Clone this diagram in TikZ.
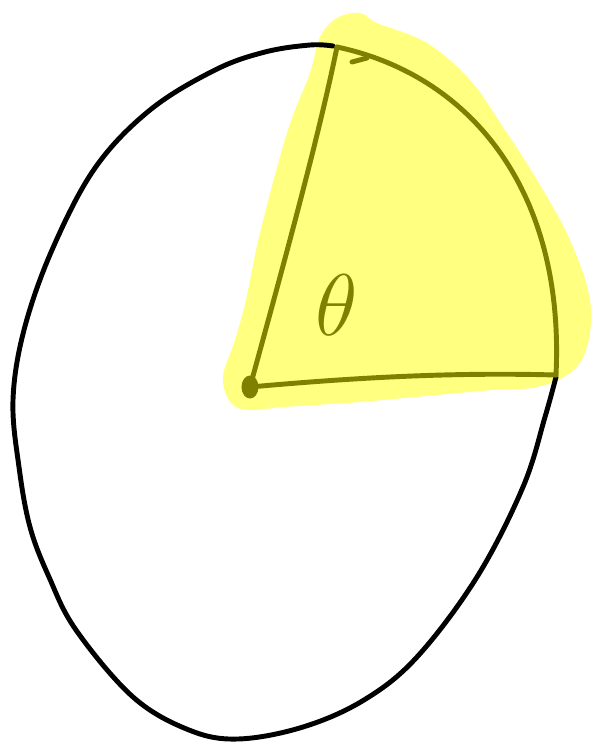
\documentclass[tikz,border=0pt]{standalone}
\usetikzlibrary{positioning, shapes.geometric}

\definecolor{hilite}{RGB}{255,255,128}
\definecolor{pen}{RGB}{128,128,0}

\begin{document}
\begin{tikzpicture}[
  x=0.01cm, y=-0.01cm,
  %% outline of the disc
  rim/.style={draw=black, line width=1.4pt, line cap=round, line join=round},
  %% strokes of the sector
  sectorline/.style={draw=pen, line width=1.4pt, line cap=round, line join=round},
  %% highlighter patch
  marker/.style={fill=hilite, draw=none},
  %% centre point
  centre/.style={ellipse, fill=pen, inner sep=0pt, minimum width=0.17cm, minimum height=0.23cm},
  %% angle label
  anglelabel/.style={text=pen, font=\fontsize{34}{34}\selectfont}
]
\useasboundingbox (0,0) rectangle (595,744);

%% ================================================================
%% HIGHLIGHT
%% ================================================================
\path[marker] plot[smooth cycle, tension=0.6] coordinates {
  (320,37) (337,18) (360,13) (377,23) (427,43) (470,80) (503,127)
  (537,180) (570,240) (590,300) (587,347) (570,373) (537,387)
  (492,390) (436,395) (360,402) (284,407) (250,410) (231,403)
  (223,377) (235,340) (246,300) (260,233) (287,133) (310,73)};

%% ================================================================
%% DISC OUTLINE
%% ================================================================
\coordinate (tip)  at (337,47);
\coordinate (edge) at (556,375);

\draw[rim] plot[smooth, tension=0.6] coordinates {
  (333,46) (310,45) (265,52) (215,70) (150,110) (95,168) (52,250)
  (24,330) (13,400) (19,467) (30,527) (49,577) (76,630) (133,697)
  (189,730) (238,739) (303,727) (364,700) (417,657) (477,577)
  (523,487) (545,417) (556,377)};

%% ================================================================
%% SECTOR
%% ================================================================
\node[centre] (o) at (250,387) {};

\draw[sectorline] (o.center) .. controls (282,270) and (318,140) .. (tip);
\draw[sectorline] (o.center) .. controls (350,378) and (450,372) .. (edge);
\draw[sectorline] (tip) .. controls (470,75) and (565,190) .. (edge);
\draw[sectorline] (352,62) -- (367,58);

\node[anglelabel] (theta) at (337,305) {$\theta$};

\end{tikzpicture}
\end{document}
